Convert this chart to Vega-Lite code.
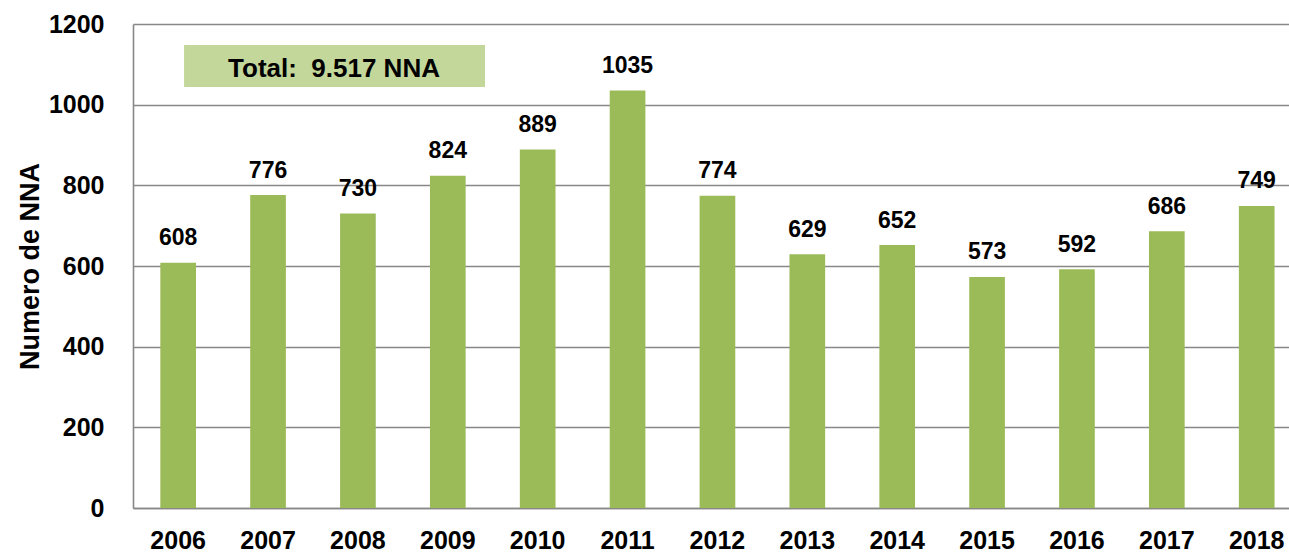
{
  "$schema": "https://vega.github.io/schema/vega-lite/v6.json",
  "width": 1156,
  "height": 484,
  "autosize": {"type": "none"},
  "padding": {"left": 133, "top": 24, "right": 0, "bottom": 45},
  "background": "white",
  "config": {
    "view": {"stroke": null},
    "font": "Liberation Sans",
    "axis": {
      "labelFont": "Liberation Sans",
      "labelFontSize": 25,
      "labelFontWeight": "bold",
      "labelColor": "#000000",
      "domainColor": "#888888",
      "domainWidth": 1.6,
      "ticks": false,
      "gridColor": "#888888",
      "gridWidth": 1.6,
      "titleFont": "Liberation Sans",
      "titleFontSize": 27,
      "titleFontWeight": "bold",
      "titleColor": "#000000"
    },
    "axisX": {"grid": false, "labelAngle": 0, "labelPadding": 20},
    "axisY": {"grid": true, "labelPadding": 29, "titlePadding": 4, "format": "d"}
  },
  "resolve": {"scale": {"x": "independent"}, "axis": {"x": "independent"}},
  "layer": [
    {
      "data": {
        "values": [
          {"year": "2006", "value": 608},
          {"year": "2007", "value": 776},
          {"year": "2008", "value": 730},
          {"year": "2009", "value": 824},
          {"year": "2010", "value": 889},
          {"year": "2011", "value": 1035},
          {"year": "2012", "value": 774},
          {"year": "2013", "value": 629},
          {"year": "2014", "value": 652},
          {"year": "2015", "value": 573},
          {"year": "2016", "value": 592},
          {"year": "2017", "value": 686},
          {"year": "2018", "value": 749}
        ]
      },
      "encoding": {
        "x": {
          "field": "year",
          "type": "nominal",
          "title": null,
          "scale": {"paddingInner": 0.603, "paddingOuter": 0.2325, "align": 0.654}
        },
        "y": {
          "field": "value",
          "type": "quantitative",
          "title": "Numero de NNA",
          "scale": {"domain": [0, 1200], "nice": false},
          "axis": {"values": [0, 200, 400, 600, 800, 1000, 1200], "format": "d"}
        }
      },
      "layer": [
        {"mark": {"type": "bar", "color": "#9bbb59"}},
        {
          "mark": {
            "type": "text",
            "dy": -17.5,
            "baseline": "alphabetic",
            "fontSize": 23,
            "fontWeight": "bold",
            "color": "#000000",
            "font": "Liberation Sans"
          },
          "encoding": {"text": {"field": "value", "type": "quantitative", "format": "d"}}
        }
      ]
    },
    {
      "data": {
        "values": [
          {"x1": 2006.068, "x2": 2009.416, "value": 1043.8, "value2": 1147.9, "xt": 2007.736, "yt": 1069.3, "label": "Total:\u00a0 9.517 NNA"}
        ]
      },
      "layer": [
        {
          "mark": {"type": "rect", "color": "#c4d79b"},
          "encoding": {
            "x": {"field": "x1", "type": "quantitative", "axis": null, "scale": {"domain": [2005.5, 2018.36], "nice": false, "zero": false}},
            "x2": {"field": "x2"},
            "y": {"field": "value", "type": "quantitative", "title": "Numero de NNA", "scale": {"domain": [0, 1200], "nice": false}},
            "y2": {"field": "value2"}
          }
        },
        {
          "mark": {
            "type": "text",
            "baseline": "alphabetic",
            "align": "center",
            "fontSize": 26,
            "fontWeight": "bold",
            "color": "#000000",
            "font": "Liberation Sans"
          },
          "encoding": {
            "x": {"field": "xt", "type": "quantitative", "axis": null, "scale": {"domain": [2005.5, 2018.36], "nice": false, "zero": false}},
            "y": {"field": "yt", "type": "quantitative", "title": "Numero de NNA", "scale": {"domain": [0, 1200], "nice": false}},
            "text": {"field": "label"}
          }
        }
      ]
    }
  ]
}
